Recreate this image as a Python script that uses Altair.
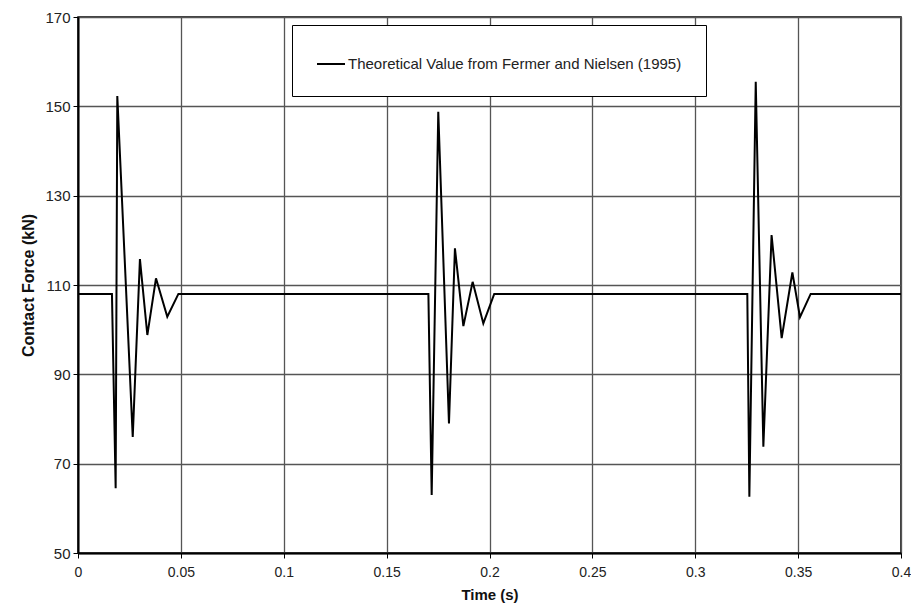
import altair as alt
import pandas as pd

# Contact force vs time
time_s = [0.0, 0.0165, 0.0183, 0.0191, 0.0266, 0.0301, 0.0337, 0.0379, 0.0434, 0.0488,
          0.1703, 0.1719, 0.1751, 0.1803, 0.1832, 0.1873, 0.1918, 0.1970, 0.2023,
          0.3253, 0.3263, 0.3294, 0.3331, 0.3371, 0.3420, 0.3472, 0.3509, 0.3561, 0.4]
force_kn = [108, 108, 64.5, 152.3, 76.0, 115.8, 98.8, 111.5, 102.9, 108,
            108, 63.0, 148.8, 79.0, 118.2, 100.8, 110.7, 101.4, 108,
            108, 62.6, 155.5, 73.8, 121.2, 98.1, 112.8, 102.8, 108, 108]
series_name = "Theoretical Value from Fermer and Nielsen (1995)"

x_ticks = [0, 0.05, 0.1, 0.15, 0.2, 0.25, 0.3, 0.35, 0.4]
y_ticks = [50, 70, 90, 110, 130, 150, 170]

df = pd.DataFrame({"t": time_s, "f": force_kn, "s": [series_name] * len(time_s),
                   "order": list(range(len(time_s)))})

font = "Liberation Sans"

chart = alt.Chart(df).mark_line(strokeWidth=2, color="black").encode(
    x=alt.X("t:Q", title="Time (s)",
            scale=alt.Scale(domain=[0, 0.4], nice=False, zero=False),
            axis=alt.Axis(values=x_ticks, format="~g", labelFlush=False)),
    y=alt.Y("f:Q", title="Contact Force (kN)",
            scale=alt.Scale(domain=[50, 170], nice=False, zero=False),
            axis=alt.Axis(values=y_ticks)),
    color=alt.Color("s:N", scale=alt.Scale(range=["black"]),
                    legend=alt.Legend(title=None, orient="none", legendX=214, legendY=8,
                                      symbolType="stroke", symbolSize=784,
                                      symbolStrokeWidth=2, symbolStrokeColor="black",
                                      labelFont=font, labelFontSize=15, labelColor="#222",
                                      labelOffset=2,
                                      padding=24, strokeColor="black", fillColor="white",
                                      labelLimit=600)),
    order="order:Q",
).properties(
    width=823, height=536,
    autosize=alt.AutoSizeParams(type="none"),
    padding={"left": 70, "top": 9, "right": 10, "bottom": 50},
).configure_view(
    stroke="black", strokeWidth=1.5
).configure_axis(
    labelFont=font, labelColor="#222",
    titleFont=font, titleFontWeight="bold", titleColor="#111",
    domainColor="black", domainWidth=2,
    tickColor="black", tickSize=5, tickWidth=1,
    gridColor="#555", gridWidth=1.3, gridOpacity=1,
).configure_axisX(
    labelFontSize=14, titleFontSize=15, labelPadding=7, titlePadding=8,
).configure_axisY(
    labelFontSize=15, titleFontSize=16, labelPadding=3, titlePadding=8,
)

chart.save("out.html", embed_options={"renderer": "svg", "actions": False})
